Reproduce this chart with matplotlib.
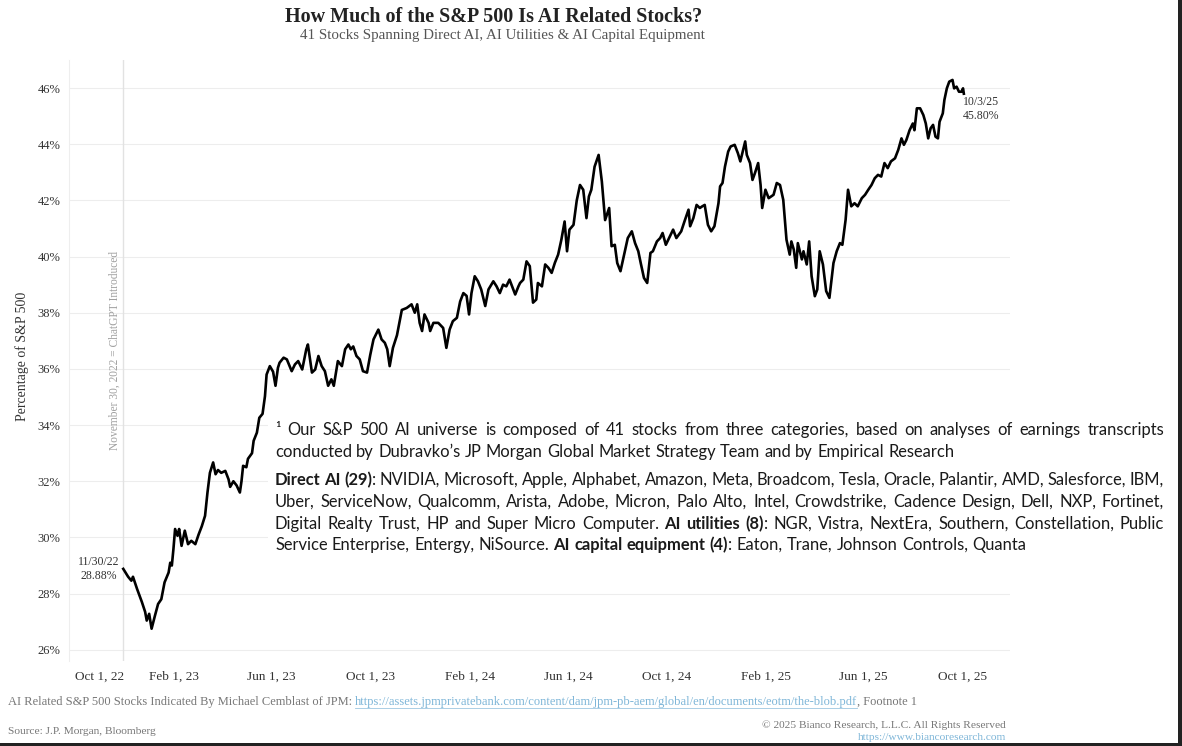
import matplotlib
matplotlib.use("Agg")
import matplotlib.pyplot as plt
from matplotlib.patches import Rectangle
from matplotlib.lines import Line2D
from matplotlib.transforms import IdentityTransform
import pandas as pd

W, H = 1182, 746
SERIF = "Liberation Serif"
BODY = "Lato"

# data: days after 11/30/22 and AI share of S&P 500 (%)
start_date = "2022-11-30"
day_offsets = [
    0, 6, 10, 12, 17, 23, 27, 29, 32, 35, 39, 43, 47, 51, 56, 58, 60, 62, 64, 67,
    69, 72, 76, 80, 84, 89, 93, 97, 101, 104, 107, 111, 114, 117, 121, 126, 130, 132, 136, 140,
    144, 146, 148, 152, 154, 159, 161, 165, 168, 172, 175, 177, 181, 185, 188, 191,
    193, 198, 202, 208, 212, 216, 221, 226, 228, 233, 237, 241, 245, 249, 253, 257, 260, 265, 270, 274,
    278, 281, 284, 288, 292, 296, 301, 305, 309, 315, 319, 323, 326, 329, 333, 338, 344, 350, 356, 360,
    363, 366, 369, 372, 377, 379, 383, 389, 395, 399, 403, 407, 412, 416, 420, 424, 427, 430, 434, 438,
    442, 447, 451, 457, 461, 465, 469, 473, 477, 484, 488,
    490, 494, 498, 502, 506, 510, 512, 517, 521, 525, 529, 533, 537, 541, 545, 548, 551, 556, 560, 564,
    568, 572, 575, 578, 582, 587, 591, 595, 600, 603, 607, 610, 614, 619, 623, 628, 632, 636, 639, 643,
    647, 651, 654, 659, 663, 666, 670, 674, 679, 683, 689, 693, 698, 700, 704, 708, 712, 715, 718, 722,
    726, 730, 735, 737, 740, 743, 747, 750, 755, 759, 762, 765, 768, 770, 774, 777, 780, 784,
    787, 789, 793, 797, 803, 807, 811, 815, 819, 823, 825, 828, 831, 833, 838, 840, 844, 847, 850, 854,
    857, 860, 864, 868, 872, 877, 881, 885, 888, 892, 895, 899, 903, 907, 912, 916, 920, 924, 928, 932,
    936, 940, 944, 948, 953, 957, 961, 964, 967, 971, 975, 977, 980, 984, 988, 991, 994, 997, 1000, 1003,
    1006, 1008, 1012, 1014, 1017, 1020, 1024, 1026, 1029, 1032, 1035, 1037, 1038,
]
ai_share = [
    28.88, 28.6, 28.46, 28.6, 28.17, 27.7, 27.35, 27.04, 27.28, 26.75, 27.2, 27.63, 27.8, 28.4, 28.75, 29.1, 29.0, 29.6, 30.3, 30.06,
    30.3, 29.7, 30.24, 29.76, 29.88, 29.76, 30.1, 30.4, 30.77, 31.6, 32.3, 32.67, 32.25, 32.4, 32.3, 32.37, 32.07, 31.8, 32.0, 31.85,
    31.6, 32.0, 32.55, 32.5, 32.8, 33.0, 33.44, 33.73, 34.26, 34.4, 35.03, 35.8, 36.1, 35.9, 35.4, 36.04,
    36.22, 36.4, 36.34, 35.92, 36.16, 36.28, 35.98, 36.7, 36.87, 35.87, 35.98, 36.46, 36.1, 35.92, 35.4, 35.63, 35.4, 36.28, 36.1, 36.7,
    36.87, 36.7, 36.8, 36.46, 36.34, 35.92, 35.87, 36.5, 37.05, 37.4, 37.05, 36.93, 36.7, 36.1, 36.75, 37.2, 38.1, 38.17, 38.3, 38.0,
    38.3, 37.64, 37.35, 37.94, 37.64, 37.35, 37.64, 37.64, 37.46, 36.75, 37.4, 37.7, 37.82, 38.4, 38.7, 38.6, 37.94, 38.7, 39.3, 39.12,
    38.83, 38.24, 38.83, 39.12, 38.94, 38.7, 39.0, 38.94, 39.18, 38.65, 38.94,
    39.06, 39.18, 39.83, 39.66, 38.36, 38.47, 39.06, 38.94, 39.72, 39.6, 39.42, 39.78, 40.07, 40.6, 41.25, 40.19, 40.96, 41.13, 42.0, 42.55,
    42.38, 41.37, 42.14, 42.38, 43.2, 43.62, 42.67, 41.3, 41.73, 40.37, 40.42, 39.77, 39.48, 40.13, 40.66, 40.9, 40.48, 40.19, 39.77, 39.24,
    39.06, 40.13, 40.19, 40.54, 40.66, 40.84, 40.42, 40.66, 40.96, 40.66, 40.9, 41.25, 41.67, 41.08, 41.37, 41.84, 41.73, 41.79, 41.84, 41.13,
    40.9, 41.08, 41.9, 42.5, 42.62, 43.2, 43.74, 43.92, 43.98, 43.68, 43.39, 43.74, 44.1, 43.62, 43.33, 42.73, 42.97, 43.33,
    42.55, 41.73, 42.38, 42.08, 42.2, 42.62, 42.55, 42.02, 40.6, 40.07, 40.54, 40.25, 39.6, 40.48, 39.9, 40.19, 39.72, 40.54, 39.3, 38.59,
    38.83, 40.19, 39.72, 38.77, 38.53, 39.77, 40.19, 40.48, 40.42, 41.31, 42.38, 41.79, 41.9, 41.79, 42.08, 42.2, 42.38, 42.55, 42.79, 42.91,
    42.85, 43.33, 43.15, 43.39, 43.5, 43.8, 44.21, 43.98, 44.15, 44.5, 44.74, 44.5, 45.28, 45.28, 45.04, 44.74, 44.21, 44.57, 44.69, 44.27,
    44.21, 44.8, 45.1, 45.58, 45.99, 46.23, 46.29, 45.99, 46.05, 45.87, 45.87, 45.99, 45.80,
]

tick_dates = ["2022-10-01", "2023-02-01", "2023-06-01", "2023-10-01", "2024-02-01",
              "2024-06-01", "2024-10-01", "2025-02-01", "2025-06-01", "2025-10-01"]
tick_labels = ["Oct 1, 22", "Feb 1, 23", "Jun 1, 23", "Oct 1, 23", "Feb 1, 24",
               "Jun 1, 24", "Oct 1, 24", "Feb 1, 25", "Jun 1, 25", "Oct 1, 25"]
y_ticks = [26, 28, 30, 32, 34, 36, 38, 40, 42, 44, 46]

# footnote box: each line is a list of (text, weight), and whether it is justified
footnote_lines = [
    ([("¹ Our S&P 500 AI universe is composed of 41 stocks from three categories, based on analyses of earnings transcripts", "normal")], True),
    ([("conducted by Dubravko’s JP Morgan Global Market Strategy Team and by Empirical Research", "normal")], False),
    ([("Direct AI (29)", "bold"), (": NVIDIA, Microsoft, Apple, Alphabet, Amazon, Meta, Broadcom, Tesla, Oracle, Palantir, AMD, Salesforce, IBM,", "normal")], True),
    ([("Uber, ServiceNow, Qualcomm, Arista, Adobe, Micron, Palo Alto, Intel, Crowdstrike, Cadence Design, Dell, NXP, Fortinet,", "normal")], True),
    ([("Digital Realty Trust, HP and Super Micro Computer. ", "normal"), ("AI utilities (8)", "bold"), (": NGR, Vistra, NextEra, Southern, Constellation, Public", "normal")], True),
    ([("Service Enterprise, Entergy, NiSource.  ", "normal"), ("AI capital equipment (4)", "bold"), (": Eaton, Trane, Johnson Controls, Quanta", "normal")], False),
]
footnote_baselines = [435, 457, 485, 507, 529, 550]

fig = plt.figure(figsize=(W / 100, H / 100), dpi=100)
fig.patch.set_facecolor("white")
renderer = fig.canvas.get_renderer()
PIX = IdentityTransform()

ax = fig.add_axes([69 / W, 1 - 661 / H, (1010 - 69) / W, (661 - 60) / H])
dates = pd.Timestamp(start_date) + pd.to_timedelta(day_offsets, unit="D")
ax.plot(dates, ai_share, color="black", lw=1.9, solid_joinstyle="round", zorder=3)
ax.axvline(dates[0], color="#e2e2e2", lw=1, zorder=1)

ax.set_ylim(25.6, 47.0)
ax.set_xlim(pd.Timestamp("2022-09-24"), pd.Timestamp("2025-11-29"))
ax.set_yticks(y_ticks)
ax.set_yticklabels([f"{v}%" for v in y_ticks])
ax.set_xticks(pd.to_datetime(tick_dates))
ax.set_xticklabels(tick_labels)
ax.tick_params(length=0, labelcolor="#333333")
ax.tick_params(axis="x", pad=7, labelsize=9.5)
ax.tick_params(axis="y", pad=6, labelsize=9)
for lbl in ax.get_xticklabels() + ax.get_yticklabels():
    lbl.set_fontfamily(SERIF)
ax.get_xticklabels()[0].set_ha("left")
ax.grid(axis="y", color="#ededed", lw=0.8)
ax.set_axisbelow(True)
for s in ["top", "right", "bottom"]:
    ax.spines[s].set_visible(False)
ax.spines["left"].set_color("#eeeeee")

ax.annotate("11/30/22\n28.88%", xy=(dates[0], ai_share[0]), xytext=(-3, 0),
            textcoords="offset points", ha="right", va="center", multialignment="center",
            fontsize=8.5, family=SERIF, color="#333333")
ax.annotate("10/3/25\n45.80%", xy=(dates[-1], ai_share[-1]), xytext=(-1, -11),
            textcoords="offset points", ha="left", va="center", multialignment="center",
            fontsize=8.5, family=SERIF, color="#333333")


def put(x, y, s, **kw):
    t = fig.text(x, H - y, s, transform=PIX, **kw)
    return t, t.get_window_extent(renderer).width


def measure(s, **kw):
    t, w = put(0, 0, s, **kw)
    t.remove()
    return w


# titles and side labels
fig.text(494 / W, 1 - 17 / H, "How Much of the S&P 500 Is AI Related Stocks?", ha="center", va="center",
         fontsize=14.5, weight="bold", family=SERIF, color="#222222")
fig.text(502 / W, 1 - 35 / H, "41 Stocks Spanning Direct AI, AI Utilities & AI Capital Equipment", ha="center",
         va="center", fontsize=10.8, family=SERIF, color="#555555")
fig.text(22 / W, 1 - 356 / H, "Percentage of S&P 500", rotation=90, ha="center", va="center",
         fontsize=10, family=SERIF, color="#333333")
fig.text(115 / W, 1 - 351 / H, "November 30, 2022 = ChatGPT Introduced", rotation=90, ha="center", va="center",
         fontsize=8.3, family=SERIF, color="#a0a0a0")

# footnote box with justified lines
BOX_X0, BOX_X1 = 275, 1164
fig.add_artist(Rectangle((268, H - 562), 904, 150, transform=PIX, facecolor="white", edgecolor="none", zorder=1))
BODY_FS = 11.9


def split_words(segments):
    words = []
    glue = False
    for text, weight in segments:
        parts = text.split(" ")
        for i, p in enumerate(parts):
            if i == 0 and glue and words:
                if p:
                    words[-1].append((p, weight))
            elif p:
                words.append([(p, weight)])
        glue = not text.endswith(" ")
    return words


space_w = measure("a a", fontsize=BODY_FS, family=BODY) - measure("aa", fontsize=BODY_FS, family=BODY)
for (segments, justify), base in zip(footnote_lines, footnote_baselines):
    words = split_words(segments)
    widths = [sum(measure(t, fontsize=BODY_FS, family=BODY, weight=wt) for t, wt in word) for word in words]
    if justify:
        gap = max((BOX_X1 - BOX_X0 - sum(widths)) / (len(words) - 1), 0.6 * space_w)
    else:
        gap = space_w
    x = BOX_X0
    for word, w in zip(words, widths):
        for t, wt in word:
            _, tw = put(x, base, t, fontsize=BODY_FS, family=BODY, weight=wt, color="#1a1a1a",
                        va="baseline", zorder=4)
            x += tw
        x += gap

# footer
FOOT = dict(fontsize=8.2, family=SERIF, va="center")
FOOT_TOP = dict(fontsize=9.0, family=SERIF, va="center")
_, w1 = put(8, 702, "AI Related S&P 500 Stocks Indicated By Michael Cemblast of JPM:", color="#777777", **FOOT_TOP)
link_x = 8 + w1 + 3
_, wl = put(link_x, 702, "https://assets.jpmprivatebank.com/content/dam/jpm-pb-aem/global/en/documents/eotm/the-blob.pdf",
            color="#7fb6d8", **FOOT_TOP)
fig.add_artist(Line2D([link_x, link_x + wl], [H - 708, H - 708], transform=PIX, color="#9cc6e0", lw=0.6))
put(link_x + wl, 702, ", Footnote 1", color="#777777", **FOOT_TOP)
put(8, 731, "Source: J.P. Morgan, Bloomberg", color="#777777", **FOOT)
fig.text(1006, H - 725, "© 2025 Bianco Research, L.L.C. All Rights Reserved", transform=PIX, ha="right",
         color="#777777", **FOOT)
fig.text(1006, H - 737, "https://www.biancoresearch.com", transform=PIX, ha="right", color="#7fb6d8", **FOOT)

# dark border of the screenshot on the right and bottom
fig.add_artist(Rectangle((W - 4, 0), 4, H, transform=PIX, facecolor="#222222", edgecolor="none", zorder=5))
fig.add_artist(Rectangle((0, 0), W, 3, transform=PIX, facecolor="#222222", edgecolor="none", zorder=5))

fig.savefig("out.png", dpi=100)
